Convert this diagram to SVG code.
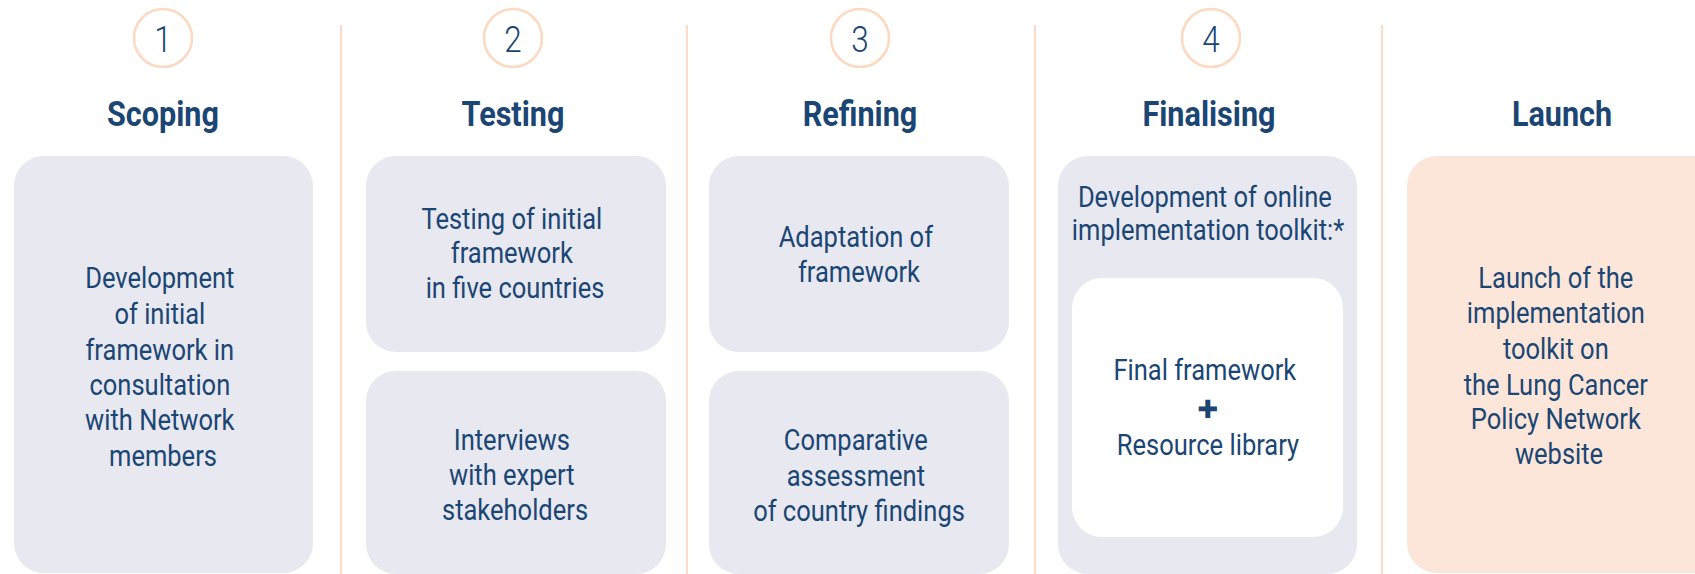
<svg xmlns="http://www.w3.org/2000/svg" width="1695" height="574" viewBox="0 0 1695 574">
<style>
.num{font-family:Roboto,"Liberation Sans",sans-serif;font-weight:300;font-size:37px;fill:#1b4674;text-anchor:middle}
.head{font-family:Roboto,"Liberation Sans",sans-serif;font-weight:700;font-size:36px;fill:#1b4674;text-anchor:middle}
.body{font-family:Roboto,"Liberation Sans",sans-serif;font-weight:400;font-size:29px;fill:#1b4674;text-anchor:middle}
.circ{fill:#ffffff;stroke:#fcd9c0;stroke-width:2.5}
.box{fill:#e7e8f0}
.div{stroke:#fcdcc6;stroke-width:2}
</style>
<rect width="1695" height="574" fill="#ffffff"/>
<g id="dividers">
<line class="div" x1="341" y1="25" x2="341" y2="574"/>
<line class="div" x1="687" y1="25" x2="687" y2="574"/>
<line class="div" x1="1035" y1="25" x2="1035" y2="574"/>
<line class="div" x1="1382" y1="25" x2="1382" y2="574"/>
</g>
<g id="step1">
<circle class="circ" cx="163" cy="38" r="29"/>
<text class="num" transform="translate(163 0) scale(0.85 1)" x="0" y="52">1</text>
<text class="head" transform="translate(163 0) scale(0.85 1)" x="0" y="126">Scoping</text>
</g>
<g id="step2">
<circle class="circ" cx="513" cy="38" r="29"/>
<text class="num" transform="translate(513 0) scale(0.85 1)" x="0" y="52">2</text>
<text class="head" transform="translate(513 0) scale(0.85 1)" x="0" y="126">Testing</text>
</g>
<g id="step3">
<circle class="circ" cx="860" cy="38" r="29"/>
<text class="num" transform="translate(860 0) scale(0.85 1)" x="0" y="52">3</text>
<text class="head" transform="translate(860 0) scale(0.85 1)" x="0" y="126">Refining</text>
</g>
<g id="step4">
<circle class="circ" cx="1211" cy="38" r="29"/>
<text class="num" transform="translate(1211 0) scale(0.85 1)" x="0" y="52">4</text>
<text class="head" transform="translate(1209 0) scale(0.85 1)" x="0" y="126">Finalising</text>
</g>
<g id="step5">
<text class="head" transform="translate(1562 0) scale(0.85 1)" x="0" y="126">Launch</text>
</g>
<g id="box-scoping">
<rect class="box" x="14" y="156" width="299" height="417" rx="30"/>
<text class="body" transform="translate(163 0) scale(0.88 1)">
<tspan x="0" y="288">Development</tspan>
<tspan x="0" y="324">of initial</tspan>
<tspan x="0" y="360">framework in</tspan>
<tspan x="0" y="395">consultation</tspan>
<tspan x="0" y="430">with Network</tspan>
<tspan x="0" y="466">members</tspan>
</text>
</g>
<g id="box-testing-1">
<rect class="box" x="366" y="156" width="300" height="196" rx="30"/>
<text class="body" transform="translate(515 0) scale(0.88 1)">
<tspan x="0" y="229">Testing of initial</tspan>
<tspan x="0" y="263">framework</tspan>
<tspan x="0" y="298">in five countries</tspan>
</text>
</g>
<g id="box-testing-2">
<rect class="box" x="366" y="371" width="300" height="203" rx="30"/>
<text class="body" transform="translate(515 0) scale(0.88 1)">
<tspan x="0" y="450">Interviews</tspan>
<tspan x="0" y="485">with expert</tspan>
<tspan x="0" y="520">stakeholders</tspan>
</text>
</g>
<g id="box-refining-1">
<rect class="box" x="709" y="156" width="300" height="196" rx="30"/>
<text class="body" transform="translate(859 0) scale(0.88 1)">
<tspan x="0" y="247">Adaptation of</tspan>
<tspan x="0" y="282">framework</tspan>
</text>
</g>
<g id="box-refining-2">
<rect class="box" x="709" y="371" width="300" height="203" rx="30"/>
<text class="body" transform="translate(859 0) scale(0.88 1)">
<tspan x="0" y="450">Comparative</tspan>
<tspan x="0" y="486">assessment</tspan>
<tspan x="0" y="521">of country findings</tspan>
</text>
</g>
<g id="box-finalising">
<rect class="box" x="1058" y="156" width="299" height="418" rx="30"/>
<text class="body" transform="translate(1208 0) scale(0.88 1)">
<tspan x="0" y="207">Development of online</tspan>
<tspan x="0" y="240">implementation toolkit:*</tspan>
</text>
<rect x="1072" y="278" width="271" height="259" rx="30" fill="#ffffff"/>
<text class="body" transform="translate(1208 0) scale(0.88 1)">
<tspan x="0" y="380">Final framework</tspan>
<tspan x="0" y="455">Resource library</tspan>
</text>
<text x="1208" y="418" font-family="'DejaVu Sans',sans-serif" font-size="25" fill="#1b4674" text-anchor="middle">✚</text>
</g>
<g id="box-launch">
<rect x="1407" y="156" width="320" height="417" rx="30" fill="#fce6da"/>
<text class="body" transform="translate(1559 0) scale(0.88 1)">
<tspan x="0" y="288">Launch of the</tspan>
<tspan x="0" y="323">implementation</tspan>
<tspan x="0" y="359">toolkit on</tspan>
<tspan x="0" y="395">the Lung Cancer</tspan>
<tspan x="0" y="429">Policy Network</tspan>
<tspan x="0" y="464">website</tspan>
</text>
</g>
</svg>
